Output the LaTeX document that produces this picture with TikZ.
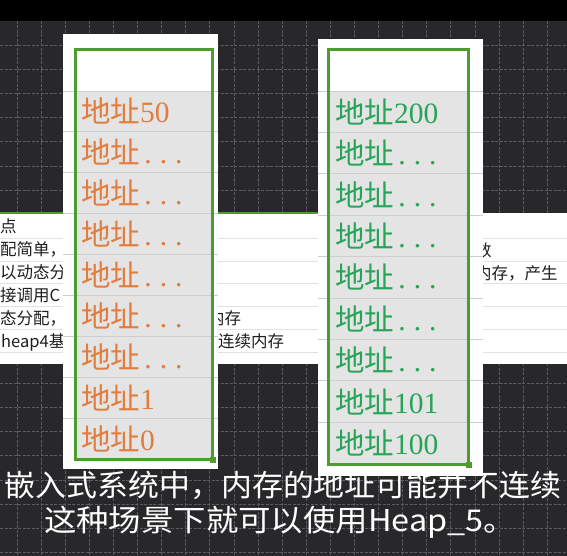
\documentclass[tikz,border=0pt]{standalone}
\usepackage{fontspec}
\setmainfont{Liberation Serif}
\newfontfamily\cjk{Noto Sans CJK SC}
\newfontfamily\lserif{Liberation Serif}
\definecolor{bgdark}{RGB}{40,40,43}
\definecolor{gridc}{RGB}{92,92,96}
\definecolor{cellgray}{RGB}{228,228,228}
\definecolor{rowline}{RGB}{206,206,206}
\definecolor{bandline}{RGB}{226,226,226}
\definecolor{selgreen}{RGB}{78,156,48}
\definecolor{addrorange}{RGB}{226,124,60}
\definecolor{addrgreen}{RGB}{38,164,88}
\definecolor{tabtext}{RGB}{30,30,30}
\newcommand\dotsrow{{\lserif\makebox[15.5pt][c]{.}\makebox[15.5pt][c]{.}\makebox[15.5pt][c]{.}}}
\newcommand\dg[1]{{\lserif #1}}
\begin{document}
\begin{tikzpicture}[x=1pt,y=-1pt,
  gridline/.style={draw=gridc,line width=0.7pt,dash pattern=on 3pt off 1.5pt},
  celltext/.style={anchor=base west,inner sep=0pt,font=\cjk\fontsize{29.5}{30}\selectfont},
  tabtxt/.style={anchor=base west,inner sep=0pt,text=tabtext,font=\cjk\fontsize{16.5}{17}\selectfont},
  subtitle/.style={inner sep=0pt,text=white,font=\cjk\fontsize{30}{31}\selectfont},
  panel/.style={fill=white},
  selbox/.style={draw=selgreen,line width=3pt},
  handle/.style={fill=selgreen}]
\useasboundingbox (0,0) rectangle (567,556);
% background
\fill[black] (0,0) rectangle (567,21);
\fill[bgdark] (0,21) rectangle (567,556);
\foreach \i in {0,...,23} \draw[gridline] ({17+24.1*\i},21) -- ({17+24.1*\i},556);
\foreach \j in {1,...,22} \draw[gridline] (0,{21+24.15*\j}) -- (567,{21+24.15*\j});
% background table band
\fill[white] (0,213) rectangle (567,364);
\foreach \y in {238,261,283,306,329,352} \draw[bandline,line width=0.8pt] (0,\y) -- (567,\y);
\draw[selgreen,line width=1.5pt] (0,213) -- (318,213);
\node[tabtxt] (t1) at (0,232) {点};
\node[tabtxt] (t2) at (0,255) {配简单，};
\node[tabtxt] (t3) at (0,278) {以动态分};
\node[tabtxt] (t4) at (0,301) {接调用C};
\node[tabtxt] (t5) at (0,324) {态分配，};
\node[tabtxt] (t6) at (1,347) {heap4基};
\node[tabtxt] (t7) at (208,324) {内存};
\node[tabtxt] (t8) at (218,347) {连续内存};
\node[tabtxt] (t9) at (475,256) {数};
\node[tabtxt] (t10) at (475,279) {内存，产生};
% left panel
\fill[panel] (63,34) rectangle (218,469);
\fill[cellgray] (75,91) rectangle (212,459);
\foreach \k in {0,...,8} \draw[rowline,line width=0.8pt] (63,{91+40.9*\k}) -- (218,{91+40.9*\k});
\draw[selbox] (75,50) rectangle (212,459);
\fill[handle] (209.5,456.5) rectangle (215.5,462.5);
\foreach \k/\t in {0/\dg{50},1/\dotsrow,2/\dotsrow,3/\dotsrow,4/\dotsrow,5/\dotsrow,6/\dotsrow,7/\dg{1},8/\dg{0}}
  \node[celltext,text=addrorange] (L\k) at (81,{91+40.9*(\k+0.5)+11.5}) {地址\t};
% right panel
\fill[panel] (318,39) rectangle (483,476);
\fill[cellgray] (328,91) rectangle (468,464);
\foreach \k in {0,...,8} \draw[rowline,line width=0.8pt] (318,{91+41.4*\k}) -- (483,{91+41.4*\k});
\draw[selbox] (328,50) rectangle (468,464);
\fill[handle] (465.5,461.5) rectangle (471.5,467.5);
\foreach \k/\t in {0/\dg{200},1/\dotsrow,2/\dotsrow,3/\dotsrow,4/\dotsrow,5/\dotsrow,6/\dotsrow,7/\dg{101},8/\dg{100}}
  \node[celltext,text=addrgreen] (R\k) at (335,{91+41.4*(\k+0.5)+11.5}) {地址\t};
% subtitles
\node[subtitle] (s1) at (283,485) {\scalebox{1.03}[1]{嵌入式系统中，内存的地址可能并不连续}};
\node[subtitle] (s2) at (280,522) {\scalebox{1.08}[1]{这种场景下就可以使用Heap\_5。}};
\end{tikzpicture}
\end{document}
